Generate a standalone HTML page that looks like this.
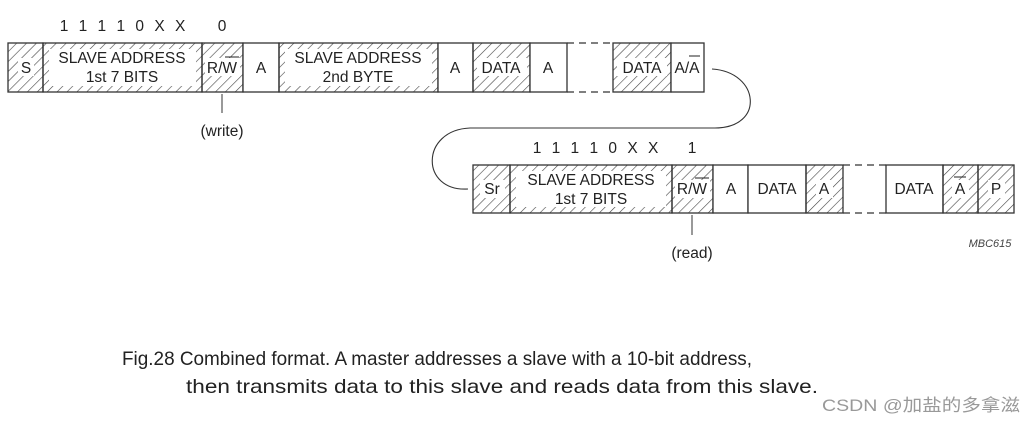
<!DOCTYPE html>
<html><head><meta charset="utf-8"><style>
html,body{margin:0;padding:0;background:#fff;}
svg{display:block;font-family:"Liberation Sans",Arial,sans-serif;}
</style></head><body>
<svg width="1035" height="422" viewBox="0 0 1035 422" xmlns="http://www.w3.org/2000/svg">
<defs>
<pattern id="h" patternUnits="userSpaceOnUse" width="7" height="7" patternTransform="rotate(45)">
<line x1="0" y1="0" x2="0" y2="7" stroke="#444" stroke-width="1.2"/>
</pattern>
</defs>
<g stroke="#333" stroke-width="1.3">
<rect x="8" y="43" width="35" height="49" fill="url(#h)"/>
<rect x="43" y="43" width="159" height="49" fill="url(#h)"/>
<rect x="49" y="49" width="147" height="37" fill="#fff" stroke="none"/>
<rect x="202" y="43" width="41" height="49" fill="url(#h)"/>
<rect x="243" y="43" width="36" height="49" fill="#fff"/>
<rect x="279" y="43" width="159" height="49" fill="url(#h)"/>
<rect x="285" y="49" width="147" height="37" fill="#fff" stroke="none"/>
<rect x="438" y="43" width="35" height="49" fill="#fff"/>
<rect x="473" y="43" width="57" height="49" fill="url(#h)"/>
<rect x="530" y="43" width="37" height="49" fill="#fff"/>
<line x1="567" y1="43" x2="613" y2="43" stroke-dasharray="7,5"/>
<line x1="567" y1="92" x2="613" y2="92" stroke-dasharray="7,5"/>
<rect x="613" y="43" width="58" height="49" fill="url(#h)"/>
<rect x="671" y="43" width="33" height="49" fill="#fff"/>
<rect x="473" y="165" width="37" height="48" fill="url(#h)"/>
<rect x="510" y="165" width="162" height="48" fill="url(#h)"/>
<rect x="516" y="171" width="150" height="36" fill="#fff" stroke="none"/>
<rect x="672" y="165" width="41" height="48" fill="url(#h)"/>
<rect x="713" y="165" width="35" height="48" fill="#fff"/>
<rect x="748" y="165" width="58" height="48" fill="#fff"/>
<rect x="806" y="165" width="37" height="48" fill="url(#h)"/>
<line x1="843" y1="165" x2="886" y2="165" stroke-dasharray="7,5"/>
<line x1="843" y1="213" x2="886" y2="213" stroke-dasharray="7,5"/>
<rect x="886" y="165" width="57" height="48" fill="#fff"/>
<rect x="943" y="165" width="35" height="48" fill="url(#h)"/>
<rect x="978" y="165" width="36" height="48" fill="url(#h)"/>
<path d="M712,69 C760,72 765,128 715,128 L470,128 C420,130 420,192 468,189" fill="none" stroke-width="1.1"/>
<line x1="222" y1="94" x2="222" y2="113" stroke-width="1"/>
<line x1="692" y1="215" x2="692" y2="235" stroke-width="1"/>
</g>
<g font-size="15.5" fill="#222" text-anchor="middle">
<rect x="18" y="58" width="16" height="18" fill="#fff"/><text x="26" y="73">S</text>
<text x="122" y="63">SLAVE  ADDRESS</text><text x="122" y="82">1st  7 BITS</text>
<rect x="205" y="58" width="35" height="18" fill="#fff"/><text x="222" y="73">R/W</text>
<line x1="225" y1="57" x2="239" y2="57" stroke="#222" stroke-width="1"/>
<text x="261" y="73">A</text>
<text x="358" y="63">SLAVE  ADDRESS</text><text x="358" y="82">2nd  BYTE</text>
<text x="455" y="73">A</text>
<rect x="477" y="58" width="50" height="18" fill="#fff"/><text x="501" y="73">DATA</text>
<text x="548" y="73">A</text>
<rect x="617" y="58" width="50" height="18" fill="#fff"/><text x="642" y="73">DATA</text>
<text x="687" y="73">A/A</text><line x1="689" y1="56" x2="700" y2="56" stroke="#222" stroke-width="1"/>
<text x="124" y="31" letter-spacing="3">1 1 1 1 0 X X</text>
<text x="222" y="31">0</text>
<text x="222" y="136">(write)</text>
<rect x="480" y="180" width="25" height="18" fill="#fff"/><text x="492" y="194">Sr</text>
<text x="591" y="185">SLAVE  ADDRESS</text><text x="591" y="204">1st  7 BITS</text>
<rect x="675" y="180" width="35" height="18" fill="#fff"/><text x="692" y="194">R/W</text>
<line x1="695" y1="178" x2="709" y2="178" stroke="#222" stroke-width="1"/>
<text x="731" y="194">A</text>
<text x="777" y="194">DATA</text>
<rect x="816" y="180" width="17" height="18" fill="#fff"/><text x="824" y="194">A</text>
<text x="914" y="194">DATA</text>
<rect x="952" y="180" width="17" height="18" fill="#fff"/><text x="960" y="194">A</text>
<line x1="954" y1="177" x2="966" y2="177" stroke="#222" stroke-width="1"/>
<rect x="988" y="180" width="17" height="18" fill="#fff"/><text x="996" y="194">P</text>
<text x="597" y="153" letter-spacing="3">1 1 1 1 0 X X</text>
<text x="692" y="153">1</text>
<text x="692" y="258">(read)</text>
<text x="990" y="247" font-size="11" font-style="italic" fill="#444">MBC615</text>
</g>
<g font-size="19.5" fill="#222">
<text x="122" y="365" textLength="630" lengthAdjust="spacingAndGlyphs">Fig.28  Combined format. A master addresses a slave with a 10-bit address,</text>
<text x="186" y="393" textLength="632" lengthAdjust="spacingAndGlyphs">then transmits data to this slave and reads data from this slave.</text>
</g>
<text x="822" y="411" font-size="17" fill="#999" font-family="'Liberation Sans','Noto Sans CJK SC',sans-serif" textLength="198" lengthAdjust="spacingAndGlyphs">CSDN @加盐的多拿滋</text>
</svg>
</body></html>
